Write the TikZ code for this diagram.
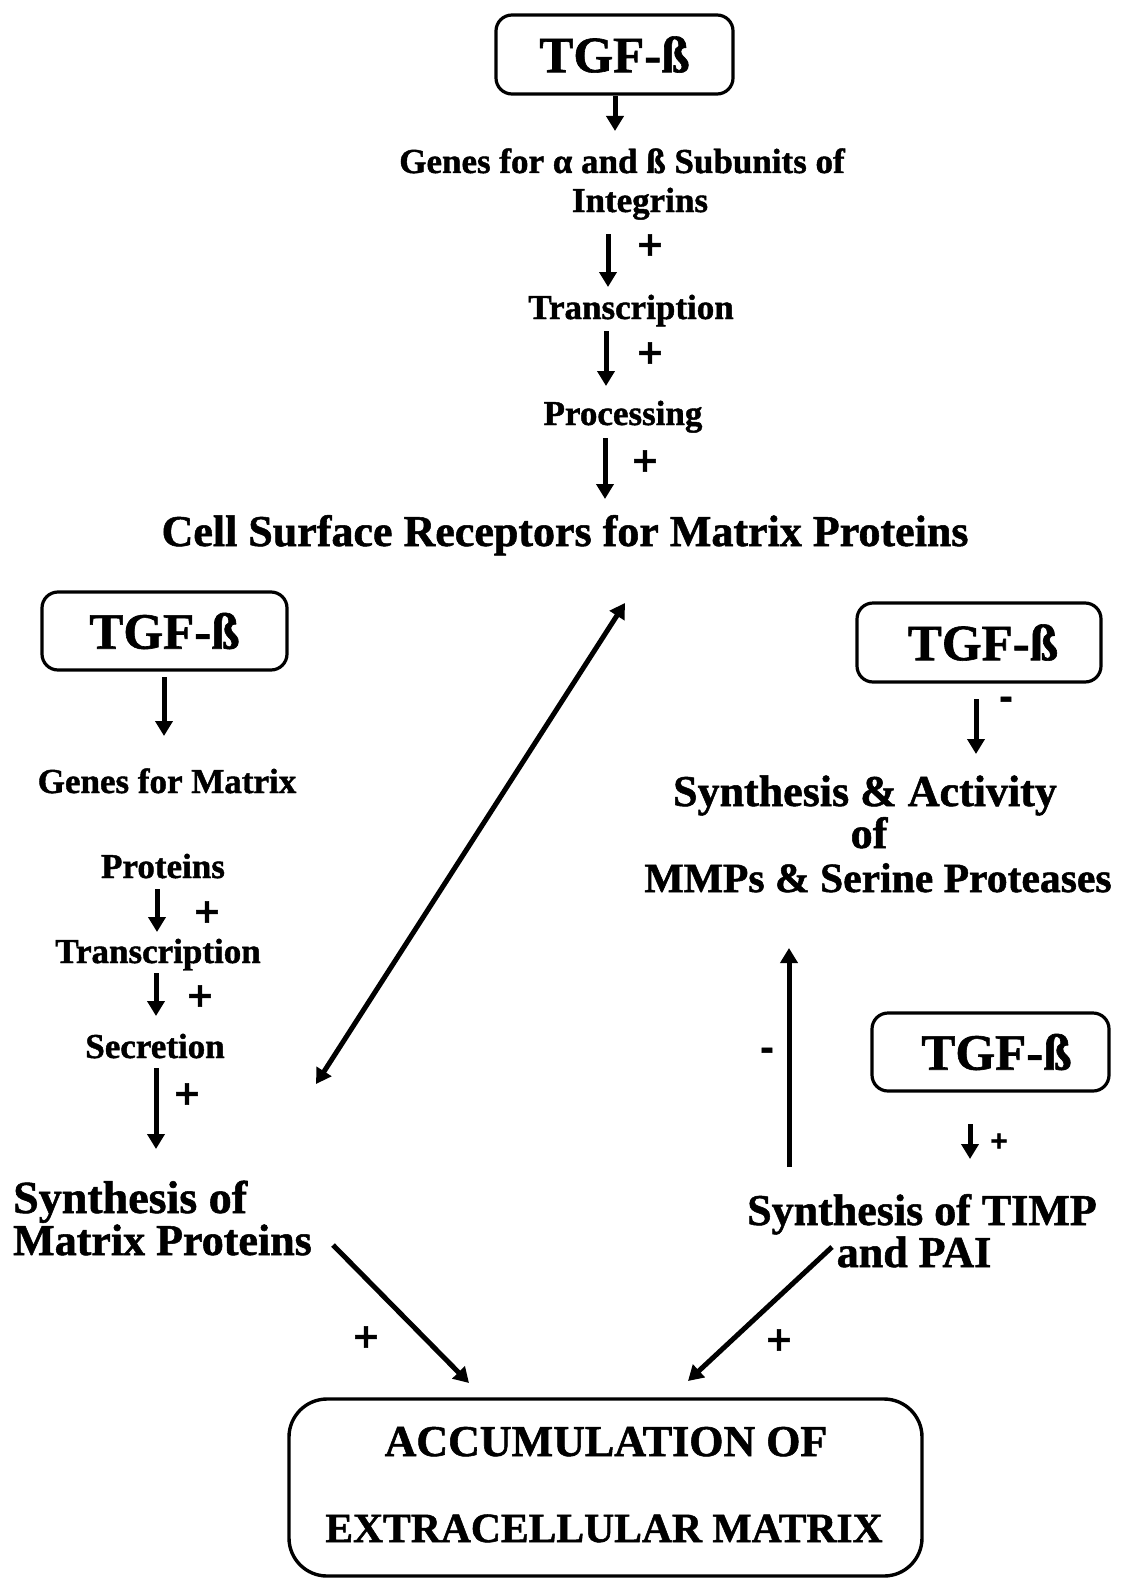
\documentclass[tikz,border=0pt]{standalone}
\usepackage{fontspec}
\setmainfont{Liberation Serif}[BoldFeatures={FakeBold=1.2}]
\newfontfamily\signfont{DejaVu Sans}[BoldFeatures={FakeBold=1.5}]
\usetikzlibrary{arrows.meta}
\begin{document}
\begin{tikzpicture}[x=1pt,y=-1pt,
  every node/.style={inner sep=0pt},
  lbl/.style={anchor=base},
  fA/.style={font=\fontsize{51}{54}\bfseries\selectfont},
  fB/.style={font=\fontsize{44}{48}\bfseries\selectfont},
  fC/.style={font=\fontsize{35}{38}\bfseries\selectfont},
  sign/.style={font=\fontsize{34}{34}\signfont\bfseries\selectfont},
  ssign/.style={font=\fontsize{24}{24}\signfont\bfseries\selectfont},
  tgfbox/.style={draw, line width=3.2pt, rounded corners=16pt, fA},
  bigbox/.style={draw, line width=3.4pt, rounded corners=38pt},
  arr/.style={line width=5pt, -{Triangle[length=15pt,width=17pt]}},
  darr/.style={line width=5pt, {Triangle[length=15pt,width=17pt]}-{Triangle[length=15pt,width=17pt]}}
]
\useasboundingbox (0,0) rectangle (1122,1581);
\fill[white] (0,0) rectangle (1122,1581);

% ---- top chain ----
\node[tgfbox, minimum width=237pt, minimum height=79pt] (tgfA) at (614.5,54.5) {TGF-ß};
\node[lbl,fC] (genesA) at (622,173) {Genes for α and ß Subunits of};
\node[lbl,fC] (integ) at (640,212) {Integrins};
\node[lbl,fC] (transA) at (631,319) {Transcription};
\node[lbl,fC] (proc) at (623,425) {Processing};
\node[lbl,fB] (csr) at (565,546) {Cell Surface Receptors for Matrix Proteins};

\coordinate (a1s) at (615,96);  \coordinate (a1e) at (615,131);
\coordinate (a2s) at (608,234); \coordinate (a2e) at (608,287);
\coordinate (a3s) at (606,331); \coordinate (a3e) at (606,386);
\coordinate (a4s) at (605,438); \coordinate (a4e) at (605,499);
\draw[arr] (a1s) -- (a1e);
\draw[arr] (a2s) -- (a2e);
\draw[arr] (a3s) -- (a3e);
\draw[arr] (a4s) -- (a4e);
\node[sign] (p1) at (650,245) {+};
\node[sign] (p2) at (650,353) {+};
\node[sign] (p3) at (645,461) {+};

% ---- left chain ----
\node[tgfbox, minimum width=245pt, minimum height=78pt] (tgfB) at (164.5,631) {TGF-ß};
\node[lbl,fC] (genesB) at (167,793) {Genes for Matrix};
\node[lbl,fC] (protB) at (163,878) {Proteins};
\node[lbl,fC] (transB) at (158,963) {Transcription};
\node[lbl,fC] (secr) at (155,1058) {Secretion};
\node[lbl,fB,anchor=base west,font=\fontsize{46}{48}\bfseries\selectfont] (synA) at (13,1213) {Synthesis of};
\node[lbl,fB,anchor=base west] (synB) at (13,1255) {Matrix Proteins};

\coordinate (b1s) at (164,677);  \coordinate (b1e) at (164,736);
\coordinate (b2s) at (157,889);  \coordinate (b2e) at (157,932);
\coordinate (b3s) at (156,973);  \coordinate (b3e) at (156,1016);
\coordinate (b4s) at (156,1068); \coordinate (b4e) at (156,1149);
\draw[arr] (b1s) -- (b1e);
\draw[arr] (b2s) -- (b2e);
\draw[arr] (b3s) -- (b3e);
\draw[arr] (b4s) -- (b4e);
\node[sign] (q1) at (207,912) {+};
\node[sign] (q2) at (200,996) {+};
\node[sign] (q3) at (187,1094) {+};

% ---- diagonal double arrow ----
\coordinate (d1) at (316,1084); \coordinate (d2) at (625,603);
\draw[darr] (d1) -- (d2);

% ---- right upper ----
\node[tgfbox, minimum width=244pt, minimum height=79pt] (tgfC) at (979,642.5) {\hspace*{8pt}TGF-ß};
\node[lbl,fB] (mmp1) at (865,806) {Synthesis \& Activity};
\node[lbl,fB] (mmp2) at (869,848) {of};
\node[lbl,fB,font=\fontsize{41.6}{44}\bfseries\selectfont] (mmp3) at (878,892) {MMPs \& Serine Proteases};
\coordinate (c1s) at (976,699); \coordinate (c1e) at (976,754);
\draw[arr] (c1s) -- (c1e);
\node[sign] (m1) at (1006,703) {-};

% ---- right lower ----
\node[tgfbox, minimum width=237pt, minimum height=78pt] (tgfD) at (990.5,1052) {\hspace*{12pt}TGF-ß};
\node[lbl,fB] (timp1) at (922,1225) {Synthesis of TIMP};
\node[lbl,fB] (timp2) at (914,1267) {and PAI};
\coordinate (e1s) at (970,1124); \coordinate (e1e) at (970,1159);
\draw[arr] (e1s) -- (e1e);
\node[ssign] (s1) at (999,1141) {+};
\coordinate (u1s) at (789,1167); \coordinate (u1e) at (789,948);
\draw[arr] (u1s) -- (u1e);
\node[sign] (m2) at (767,1054) {-};

% ---- bottom ----
\node[bigbox, minimum width=633pt, minimum height=177pt] (ecm) at (605.5,1487.5) {};
\node[lbl,fB] (ecm1) at (606,1456) {ACCUMULATION OF};
\node[lbl,fB,font=\fontsize{41.6}{44}\bfseries\selectfont] (ecm2) at (604,1542) {EXTRACELLULAR MATRIX};
\coordinate (g1s) at (333,1245); \coordinate (g1e) at (469,1383);
\coordinate (g2s) at (832,1247); \coordinate (g2e) at (688,1381);
\draw[arr] (g1s) -- (g1e);
\draw[arr] (g2s) -- (g2e);
\node[sign] (r1) at (366,1337) {+};
\node[sign] (r2) at (779,1340) {+};
\end{tikzpicture}
\end{document}
